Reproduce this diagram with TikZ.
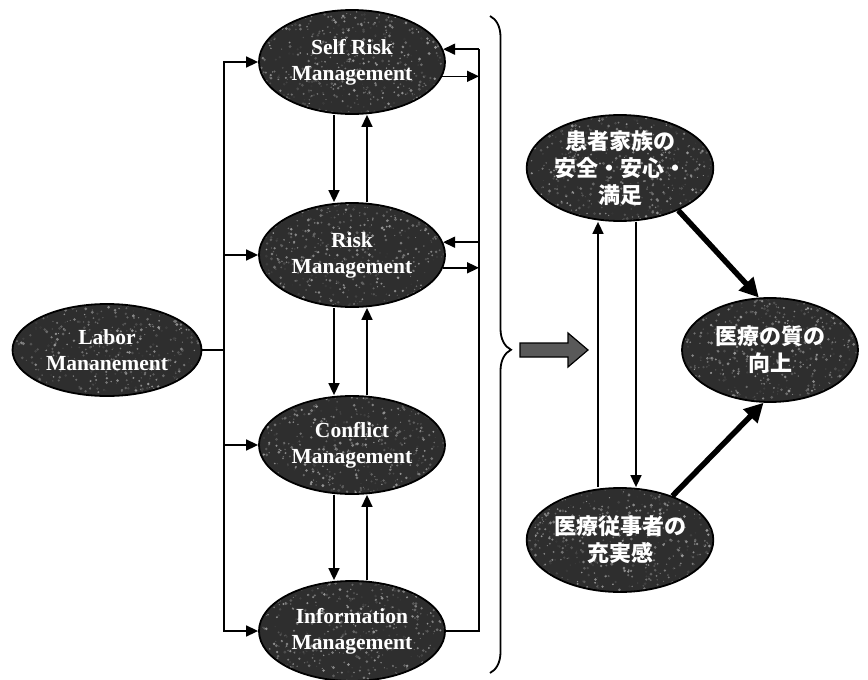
\documentclass[tikz,border=0pt]{standalone}
\usepackage{fontspec}
\setmainfont{Liberation Serif}
\newfontfamily\jpfont{Noto Sans CJK JP}
\usetikzlibrary{arrows.meta,calc,decorations.pathreplacing,shapes.geometric}

\begin{document}
\begin{tikzpicture}[x=1pt,y=-1pt,
  % speckled texture inside the dark ellipses
  grainy/.style={path picture={
    \foreach \k in {1,...,650}{
      \pgfmathsetmacro\gx{rnd*200}
      \pgfmathsetmacro\gy{rnd*112}
      \pgfmathsetmacro\gs{0.5+rnd*1.1}
      \pgfmathsetmacro\gc{40+rnd*40}
      \fill[black!\gc] ($(path picture bounding box.north west)+(\gx,\gy)$) circle (\gs pt);
    }}},
  mgmt/.style={ellipse, draw=black, line width=1.8pt, fill=black!82, grainy,
    minimum width=186pt, minimum height=104pt, inner sep=0pt, align=center,
    text=white, font=\fontsize{21.5}{26}\selectfont\bfseries},
  goal/.style={mgmt, font=\jpfont\fontsize{22}{27}\selectfont\bfseries},
  link/.style={line width=1.6pt, -{Triangle[length=12pt,width=11pt]}},
  plain/.style={line width=1.6pt},
  strong/.style={line width=5.5pt, -{Triangle[length=19pt,width=19pt]}}
]
\pgfmathsetseed{7}
\fill[white] (0,0) rectangle (868,680);
\useasboundingbox (0,0) rectangle (868,680);

% management activities
\node[mgmt] (self) at (352,62) {Self Risk\\Management};
\node[mgmt] (risk) at (352,255) {Risk\\Management};
\node[mgmt, minimum height=98pt] (conf) at (352,445) {Conflict\\Management};
\node[mgmt, minimum height=100pt] (info) at (352,631) {Information\\Management};
\node[mgmt, minimum width=189pt, minimum height=92pt] (labor) at (107,350) {Labor\\Mananement};

% outcomes
\node[goal] (pat) at (620,168) {患者家族の\\安全・安心・\\満足};
\node[goal] (staff) at (620,540) {医療従事者の\\充実感};
\node[goal, minimum width=176pt] (qual) at (770,350) {医療の質の\\向上};

% left distribution bus
\coordinate (lbus) at (224,350);
\draw[plain] (labor.east) -- (lbus);
\draw[link] (lbus) |- (self.west);
\draw[link] (lbus) |- (risk.west);
\draw[link] (lbus) |- (conf.west);
\draw[link] (lbus) |- (info.west);

% right feedback bus
\coordinate (rbus) at (479,0);
\draw[plain] (info.east) -| (rbus |- self.8);
\draw[link] (rbus |- self.8) -- (self.8);
\draw[link] (self.-9) -- (rbus |- self.-9);
\draw[link] (rbus |- risk.8) -- (risk.8);
\draw[link] (risk.-8) -- (rbus |- risk.-8);

% vertical exchanges between neighbouring activities
\draw[link] ([xshift=-18pt]self.south) -- ([xshift=-18pt]self.south |- risk.north);
\draw[link] ([xshift=15pt]risk.north) -- ([xshift=15pt]risk.north |- self.south);
\draw[link] ([xshift=-18pt]risk.south) -- ([xshift=-18pt]risk.south |- conf.north);
\draw[link] ([xshift=15pt]conf.north) -- ([xshift=15pt]conf.north |- risk.south);
\draw[link] ([xshift=-18pt]conf.south) -- ([xshift=-18pt]conf.south |- info.north);
\draw[link] ([xshift=15pt]info.north) -- ([xshift=15pt]info.north |- conf.south);

% brace gathering the activities
\draw[line width=1.8pt, decorate, decoration={brace, amplitude=21pt, aspect=0.508}]
  (490,16) -- (490,673);

% block arrow
\draw[line width=1.2pt, fill=black!65]
  (520,343) -- (568,343) -- (568,333) -- (588,350) -- (568,367) -- (568,357) -- (520,357) -- cycle;

% exchanges between the two outcomes
\draw[link] ([xshift=16pt]pat.south) -- ([xshift=16pt]pat.south |- staff.north);
\draw[link] ([xshift=-22pt]staff.north) -- ([xshift=-22pt]staff.north |- pat.south);

% contributions to quality of care
\draw[strong] (pat.-36) -- (qual.102);
\draw[strong] (staff.40) -- (qual.-97);
\end{tikzpicture}
\end{document}
